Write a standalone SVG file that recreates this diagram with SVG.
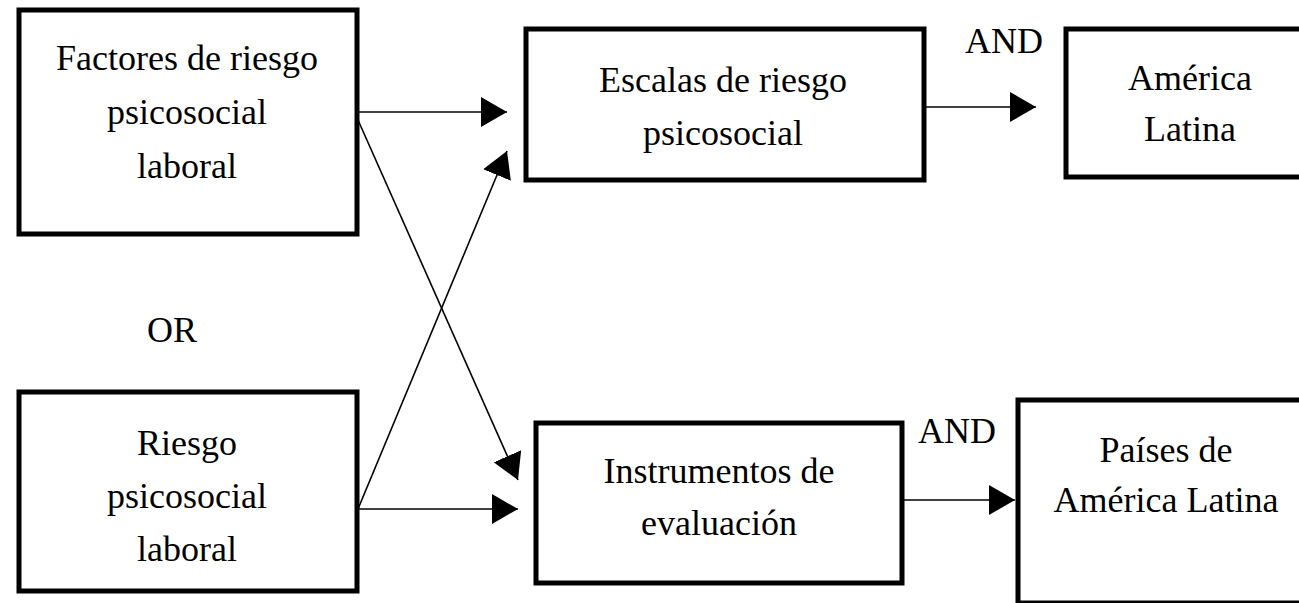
<svg xmlns="http://www.w3.org/2000/svg" width="1299" height="603" viewBox="0 0 1299 603">
<style>
.box{fill:#fff;stroke:#000;stroke-width:5}
.t{font-family:"Liberation Serif","Times New Roman",serif;font-size:36px;fill:#000;text-anchor:middle}
.c{stroke:#000;stroke-width:1.6;fill:none;marker-end:url(#ah)}
</style>
<defs>
<marker id="ah" markerUnits="userSpaceOnUse" markerWidth="26" markerHeight="30" refX="26" refY="15" orient="auto">
<path d="M0,0 L26,15 L0,30 Z" fill="#000"/>
</marker>
</defs>
<rect width="1299" height="603" fill="#fff"/>
<g id="connectors">
<line class="c" x1="358" y1="112" x2="507" y2="112"/>
<line class="c" x1="358" y1="120" x2="518" y2="480"/>
<line class="c" x1="358" y1="509" x2="507" y2="151"/>
<line class="c" x1="358" y1="509" x2="518" y2="509"/>
<line class="c" x1="925" y1="107" x2="1036" y2="107"/>
<line class="c" x1="903" y1="500" x2="1015" y2="500"/>
</g>
<g id="node-factores">
<rect class="box" x="19" y="10" width="338" height="224"/>
<text class="t" x="187" y="70">Factores de riesgo</text>
<text class="t" x="187" y="124">psicosocial</text>
<text class="t" x="187" y="178">laboral</text>
</g>
<g id="node-riesgo">
<rect class="box" x="19" y="392" width="338" height="199"/>
<text class="t" x="187" y="455">Riesgo</text>
<text class="t" x="187" y="508">psicosocial</text>
<text class="t" x="187" y="561">laboral</text>
</g>
<g id="label-or">
<text class="t" x="172" y="342">OR</text>
</g>
<g id="node-escalas">
<rect class="box" x="526" y="29" width="398" height="151"/>
<text class="t" x="723" y="92">Escalas de riesgo</text>
<text class="t" x="723" y="145">psicosocial</text>
</g>
<g id="label-and1">
<text class="t" x="1004" y="53">AND</text>
</g>
<g id="node-america">
<rect class="box" x="1066" y="29" width="240" height="148"/>
<text class="t" x="1190" y="90">América</text>
<text class="t" x="1190" y="141">Latina</text>
</g>
<g id="node-instrumentos">
<rect class="box" x="536" y="423" width="366" height="160"/>
<text class="t" x="719" y="483">Instrumentos de</text>
<text class="t" x="719" y="535">evaluación</text>
</g>
<g id="label-and2">
<text class="t" x="957" y="443">AND</text>
</g>
<g id="node-paises">
<rect class="box" x="1018" y="400" width="287" height="203"/>
<text class="t" x="1166" y="462">Países de</text>
<text class="t" x="1166" y="512">América Latina</text>
</g>
</svg>
